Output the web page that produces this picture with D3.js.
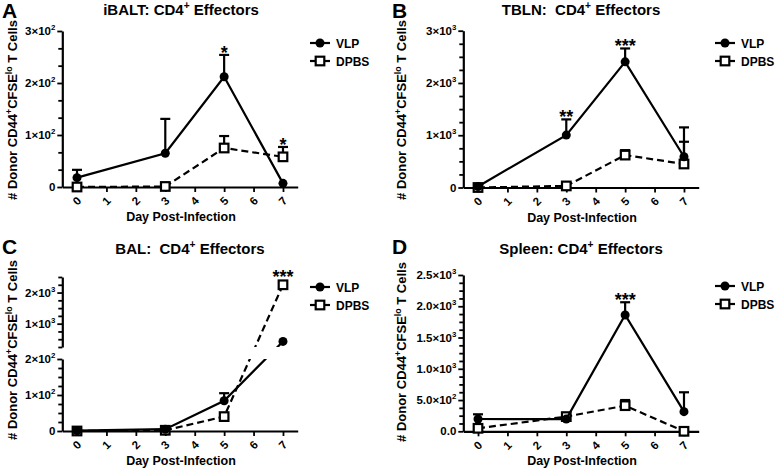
<!DOCTYPE html>
<html><head><meta charset="utf-8">
<script src="https://cdn.jsdelivr.net/npm/d3@7"></script>
<style>
body{margin:0;background:#fff}
svg text{font-family:"Liberation Sans",Arial,Helvetica,sans-serif;font-weight:bold;fill:#000}
</style>
</head><body>
<svg id="c" width="777" height="470"></svg>
<script>
// ---------- DATA ----------
const days = [0, 3, 5, 7];
const dayTicks = [0, 1, 2, 3, 4, 5, 6, 7];
const dayLabels = ["0", "1", "2", "3", "4", "5", "6", "7"];
const seriesNames = ["VLP", "DPBS"];

// A: iBALT
const aVLP = [18, 65, 212, 7];
const aVLPErr = [15, 66, 42, 0];
const aDPBS = [0, 1, 75, 58];
const aDPBSErr = [0, 0, 23, 19];
const aYTicks = [0, 100, 200, 300];
const aYLabels = ["0", "1×10{2}", "2×10{2}", "3×10{2}"];
const aStars = [{day: 5, text: "*"}, {day: 7, text: "*"}];

// B: TBLN
const bVLP = [20, 1003, 2404, 589];
const bVLPErr = [0, 300, 256, 561];
const bDPBS = [0, 30, 620, 450];
const bDPBSErr = [0, 0, 95, 425];
const bYTicks = [0, 1000, 2000, 3000];
const bYLabels = ["0", "1×10{3}", "2×10{3}", "3×10{3}"];
const bStars = [{day: 3, text: "**"}, {day: 5, text: "***"}];

// C: BAL (broken axis)
const cVLP = [1, 5, 84, 430];
const cVLPErr = [0, 0, 21, 0];
const cDPBS = [0, 2, 40, 2250];
const cDPBSErr = [0, 0, 0, 0];
const cYTicksLow = [0, 100, 200];
const cYLabelsLow = ["0", "1×10{2}", "2×10{2}"];
const cYTicksHigh = [1000, 2000];
const cYLabelsHigh = ["1×10{3}", "2×10{3}"];
const cStars = [{day: 7, text: "***"}];

// D: Spleen
const dVLP = [197, 195, 1861, 314];
const dVLPErr = [75, 0, 203, 310];
const dDPBS = [48, 235, 410, 0];
const dDPBSErr = [0, 0, 90, 0];
const dYTicks = [0, 500, 1000, 1500, 2000, 2500];
const dYLabels = ["0.0", "5.0×10{2}", "1.0×10{3}", "1.5×10{3}", "2.0×10{3}", "2.5×10{3}"];
const dStars = [{day: 5, text: "***"}];

const titles = ["iBALT: CD4{+} Effectors", "TBLN:  CD4{+} Effectors", "BAL:  CD4{+} Effectors", "Spleen: CD4{+} Effectors"];
const letters = ["A", "B", "C", "D"];
const yTitle = "# Donor CD44{+}CFSE{lo} T Cells";
const xTitle = "Day Post-Infection";

// ---------- DRAWING ----------
const svg = d3.select("#c");
let clipId = 0;

function rich(textSel, str, fs) {
  const parts = str.split(/\{([^}]*)\}/);
  let raised = false;
  parts.forEach((p, i) => {
    if (i % 2 === 1) {
      textSel.append("tspan").attr("dy", -0.42 * fs).attr("font-size", 0.68 * fs).text(p);
      raised = true;
    } else {
      if (p === "") return;
      const t = textSel.append("tspan").text(p.replace(/ /g, "\u00a0"));
      if (raised) { t.attr("dy", 0.42 * fs); raised = false; }
    }
  });
}

function drawPanel(p) {
  const g = svg.append("g");
  const x = d3.scaleLinear().domain([-0.5, 7.5]).range(p.xRange);
  const segs = p.segments.map(s => Object.assign({}, s, {scale: d3.scaleLinear().domain(s.domain).range(s.range)}));
  const yFn = v => {
    if (segs.length === 1) return segs[0].scale(v);
    const lo = segs[0], hi = segs[1];
    if (v <= lo.domain[1]) return lo.scale(v);
    if (v >= hi.domain[0]) return hi.scale(v);
    const t = (v - lo.domain[1]) / (hi.domain[0] - lo.domain[1]);
    return lo.scale(lo.domain[1]) + t * (hi.scale(hi.domain[0]) - lo.scale(lo.domain[1]));
  };
  const axisX = x(-0.5);
  const baseY = segs[0].scale(0);

  // x axis
  const xa = g.append("g").attr("transform", `translate(0,${baseY})`)
    .call(d3.axisBottom(x).tickValues(dayTicks).tickSize(5).tickSizeOuter(0).tickFormat(""));
  xa.select(".domain").attr("stroke-width", 2.2);
  xa.selectAll(".tick line").attr("stroke-width", 1.8);
  dayTicks.forEach((d, i) => {
    g.append("text").attr("x", x(d)).attr("y", baseY + 14)
      .attr("text-anchor", "middle").attr("dominant-baseline", "central")
      .attr("font-size", 11.5)
      .attr("transform", `rotate(-45,${x(d)},${baseY + 14})`).text(dayLabels[i]);
  });

  // y axis segments
  segs.forEach(s => {
    const ya = g.append("g").attr("transform", `translate(${axisX},0)`)
      .call(d3.axisLeft(s.scale).tickValues(s.ticks).tickSize(5).tickSizeOuter(0).tickFormat(""));
    ya.select(".domain").attr("stroke-width", 2.2);
    ya.selectAll(".tick line").attr("stroke-width", 1.8);
    const minors = d3.range(s.domain[0], s.domain[1] + 1e-6, s.minor).filter(v => !s.ticks.some(t => Math.abs(t - v) < 1e-6));
    const ym = g.append("g").attr("transform", `translate(${axisX},0)`)
      .call(d3.axisLeft(s.scale).tickValues(minors).tickSize(4).tickSizeOuter(0).tickFormat(""));
    ym.select(".domain").remove();
    ym.selectAll(".tick line").attr("stroke-width", 1.8);
    s.ticks.forEach((t, i) => {
      const tx = g.append("text").attr("x", axisX - 7).attr("y", s.scale(t) + 4)
        .attr("text-anchor", "end").attr("font-size", 11.5);
      rich(tx, s.labels[i], 11.5);
    });
  });

  // clip for broken axis
  let clip = null;
  if (segs.length > 1) {
    const id = "clip" + (clipId++);
    const cp = svg.append("clipPath").attr("id", id);
    cp.append("rect").attr("x", axisX).attr("y", segs[0].range[1]).attr("width", 400).attr("height", segs[0].range[0] - segs[0].range[1] + 20);
    cp.append("rect").attr("x", axisX).attr("y", segs[1].range[1] - 20).attr("width", 400).attr("height", segs[1].range[0] - segs[1].range[1] + 20);
    clip = `url(#${id})`;
  }

  const series = [
    {name: seriesNames[1], vals: p.dpbs, errs: p.dpbsErr, dash: "7,4", marker: "square"},
    {name: seriesNames[0], vals: p.vlp, errs: p.vlpErr, dash: null, marker: "circle"}
  ];
  series.forEach(se => {
    const pts = days.map((d, i) => ({day: d, v: se.vals[i], e: se.errs[i]}));
    pts.filter(q => q.e > 0).forEach(q => {
      const cx = x(q.day), y0 = yFn(q.v), y1 = yFn(q.v + q.e);
      g.append("line").attr("x1", cx).attr("x2", cx).attr("y1", y0).attr("y2", y1).attr("stroke", "#000").attr("stroke-width", 2.2);
      g.append("line").attr("x1", cx - 5).attr("x2", cx + 5).attr("y1", y1).attr("y2", y1).attr("stroke", "#000").attr("stroke-width", 2.2);
    });
    const line = d3.line().x(q => x(q.day)).y(q => yFn(q.v));
    const path = g.append("path").datum(pts).attr("d", line).attr("fill", "none")
      .attr("stroke", "#000").attr("stroke-width", 2.2);
    if (se.dash) path.attr("stroke-dasharray", se.dash);
    if (clip) path.attr("clip-path", clip);
    pts.forEach(q => drawMarker(g, se.marker, x(q.day), yFn(q.v)));
  });

  // stars
  p.stars.forEach(st => {
    const i = days.indexOf(st.day);
    const tops = [p.vlp[i] + p.vlpErr[i], p.dpbs[i] + p.dpbsErr[i]];
    const errMax = Math.max(p.vlpErr[i], p.dpbsErr[i]);
    let yTop = yFn(Math.max(...tops));
    if (errMax === 0) yTop -= 6;
    g.append("text").attr("x", x(st.day)).attr("y", yTop + 4).attr("text-anchor", "middle")
      .attr("font-size", 18).text(st.text);
  });

  // legend
  seriesNames.forEach((nm, k) => {
    const ly = p.legY + k * 18;
    g.append("line").attr("x1", p.legX).attr("x2", p.legX + 20).attr("y1", ly).attr("y2", ly)
      .attr("stroke", "#000").attr("stroke-width", 2.2);
    drawMarker(g, k === 0 ? "circle" : "square", p.legX + 10, ly);
    g.append("text").attr("x", p.legX + 26).attr("y", ly + 4.5).attr("font-size", 12).text(nm);
  });

  // titles
  const tt = g.append("text").attr("x", p.titleX).attr("y", p.titleY).attr("text-anchor", "middle").attr("font-size", 15);
  rich(tt, p.title, 15);
  g.append("text").attr("x", p.letterX).attr("y", p.letterY).attr("font-size", 21).text(p.letter);
  g.append("text").attr("x", p.xTitleX).attr("y", baseY + 34).attr("text-anchor", "middle").attr("font-size", 12.5).text(xTitle);
  const yl = g.append("text").attr("transform", `translate(${p.yTitleX},${p.yTitleY}) rotate(-90)`)
    .attr("text-anchor", "middle").attr("font-size", 13);
  rich(yl, yTitle, 13);
}

function drawMarker(g, kind, cx, cy) {
  if (kind === "circle") {
    g.append("circle").attr("cx", cx).attr("cy", cy).attr("r", 4.5).attr("fill", "#000");
  } else {
    g.append("rect").attr("x", cx - 4.3).attr("y", cy - 4.3).attr("width", 8.6).attr("height", 8.6)
      .attr("fill", "#fff").attr("stroke", "#000").attr("stroke-width", 2.2);
  }
}

const L = [62.3, 297.7], R = [463.3, 698.7];
const panels = [
  {letter: letters[0], title: titles[0], xRange: L, vlp: aVLP, vlpErr: aVLPErr, dpbs: aDPBS, dpbsErr: aDPBSErr, stars: aStars,
   segments: [{domain: [0, 300], range: [187, 31], ticks: aYTicks, labels: aYLabels, minor: 100 / 3}],
   legX: 310, legY: 43, titleX: 181, titleY: 15, letterX: 2, letterY: 18, xTitleX: 181, yTitleX: 17, yTitleY: 110},
  {letter: letters[1], title: titles[1], xRange: R, vlp: bVLP, vlpErr: bVLPErr, dpbs: bDPBS, dpbsErr: bDPBSErr, stars: bStars,
   segments: [{domain: [0, 3000], range: [187.5, 30.7], ticks: bYTicks, labels: bYLabels, minor: 250}],
   legX: 715, legY: 43, titleX: 581, titleY: 15, letterX: 392, letterY: 18, xTitleX: 582, yTitleX: 406, yTitleY: 110},
  {letter: letters[2], title: titles[2], xRange: L, vlp: cVLP, vlpErr: cVLPErr, dpbs: cDPBS, dpbsErr: cDPBSErr, stars: cStars,
   segments: [{domain: [0, 200], range: [431, 359], ticks: cYTicksLow, labels: cYLabelsLow, minor: 25},
              {domain: [250, 2500], range: [347, 277], ticks: cYTicksHigh, labels: cYLabelsHigh, minor: 250}],
   legX: 310, legY: 287, titleX: 190, titleY: 254, letterX: 2, letterY: 254, xTitleX: 181, yTitleX: 17, yTitleY: 350},
  {letter: letters[3], title: titles[3], xRange: R, vlp: dVLP, vlpErr: dVLPErr, dpbs: dDPBS, dpbsErr: dDPBSErr, stars: dStars,
   segments: [{domain: [0, 2500], range: [431.3, 275], ticks: dYTicks, labels: dYLabels, minor: 125}],
   legX: 715, legY: 286, titleX: 581, titleY: 254, letterX: 392, letterY: 254, xTitleX: 582, yTitleX: 406, yTitleY: 352}
];
panels.forEach(drawPanel);
</script>
</body></html>
